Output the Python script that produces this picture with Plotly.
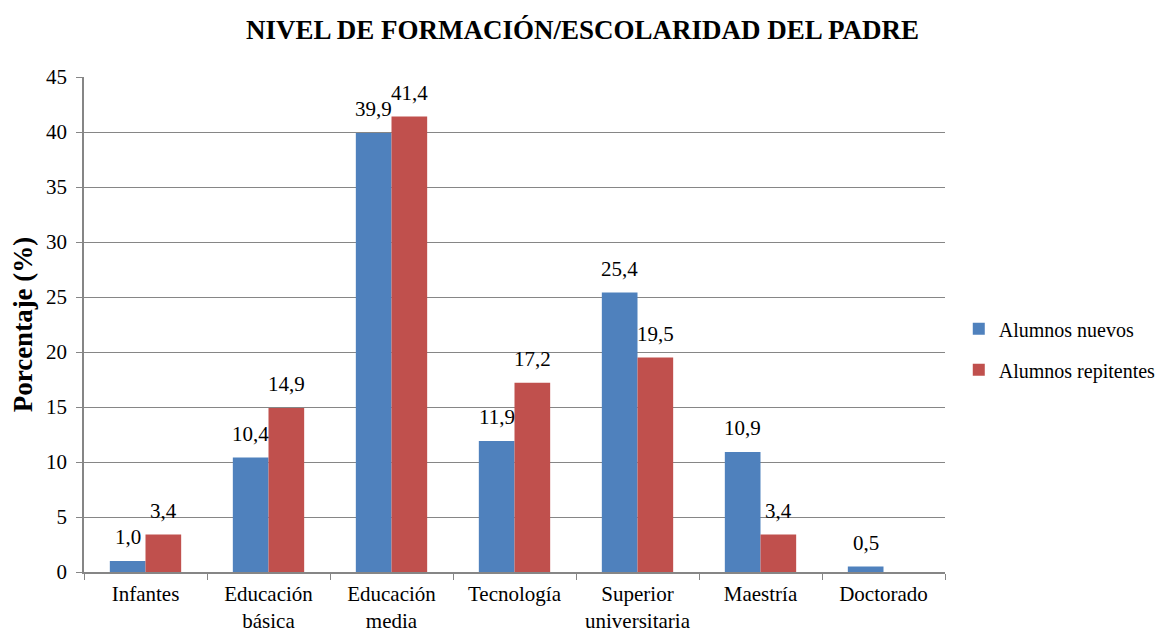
import plotly.graph_objects as go

categories = ["Infantes", "Educación<br>básica", "Educación<br>media", "Tecnología",
              "Superior<br>universitaria", "Maestría", "Doctorado"]
nuevos = [1.0, 10.4, 39.9, 11.9, 25.4, 10.9, 0.5]
repitentes = [3.4, 14.9, 41.4, 17.2, 19.5, 3.4, 0.0]

def fmt(v):
    return "" if v == 0 else f"{v:.1f}".replace(".", ",")

FONT = "Liberation Serif"
LBL = 21
W, H = 1159, 622
ML, MR, MT, MB = 76, 222, 69, 58

fig = go.Figure()
fig.add_trace(go.Bar(x=categories, y=nuevos, name="Alumnos nuevos", legendgroup="a",
                     marker=dict(color="#4F81BD", line=dict(width=0))))
fig.add_trace(go.Bar(x=categories, y=repitentes, name="Alumnos repitentes", legendgroup="b",
                     marker=dict(color="#C0504D", line=dict(width=0))))

# value labels above the bars (data-positioned)
plot_w = W - ML - MR
bargap = 0.42
half_bar = plot_w / len(categories) * (1 - bargap) / 4
annotations = []
for series, sign in ((nuevos, -1), (repitentes, 1)):
    for cat, v in zip(categories, series):
        if v == 0:
            continue
        annotations.append(dict(x=cat, y=v, xref="x", yref="y", text=fmt(v), showarrow=False,
                                xshift=sign * half_bar, yshift=24, yanchor="middle",
                                font=dict(family=FONT, size=LBL, color="black")))

fig.update_layout(
    width=W, height=H,
    margin=dict(l=ML, r=MR, t=MT, b=MB, autoexpand=False),
    paper_bgcolor="white", plot_bgcolor="white",
    font=dict(family=FONT, size=LBL, color="black"),
    title=dict(text="<b>NIVEL DE FORMACIÓN/ESCOLARIDAD DEL PADRE</b>", x=574.5 / W, xanchor="center",
               y=1 - 22 / H, yanchor="middle", font=dict(family=FONT, size=27, color="black")),
    barmode="group", bargap=bargap, bargroupgap=0,
    showlegend=True,
    legend=dict(x=1.016, xanchor="left", y=0.45, yanchor="middle",
                font=dict(family=FONT, size=20, color="black"),
                itemwidth=30, tracegroupgap=12, traceorder="grouped",
                bgcolor="rgba(0,0,0,0)"),
    annotations=annotations,
)
fig.update_xaxes(showline=True, linecolor="#868686", linewidth=1.5,
                 ticks="outside", tickson="boundaries", ticklen=6, tickcolor="#868686",
                 ticklabelstandoff=2, automargin=False,
                 tickfont=dict(family=FONT, size=LBL, color="black"), showgrid=False)
fig.update_yaxes(range=[0, 45], dtick=5, showline=True, linecolor="#868686", linewidth=1.5,
                 ticks="outside", ticklen=6, tickcolor="#868686",
                 ticklabelstandoff=5, automargin=False,
                 gridcolor="#868686", gridwidth=1.2,
                 tickfont=dict(family=FONT, size=LBL, color="black"),
                 title=dict(text="<b>Porcentaje (%)</b>", font=dict(family=FONT, size=27, color="black"),
                            standoff=7),
                 zeroline=False)

fig.write_html("out.html")
